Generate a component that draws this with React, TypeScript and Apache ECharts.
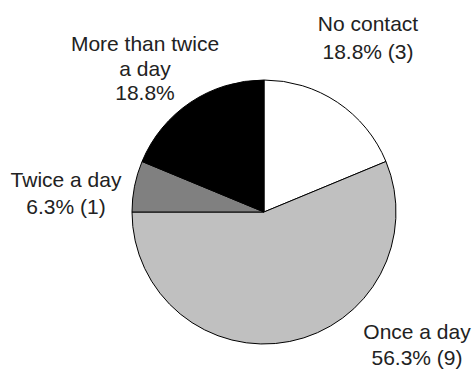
import React, { useEffect, useRef } from "react";
import * as echarts from "echarts";

// Data
const categories = ["No contact", "Once a day", "Twice a day", "More than twice a day"];
const labelTitles = ["No contact", "Once a day", "Twice a day", "More than twice\na day"];
const counts = [3, 9, 1, 3];
const showCount = [true, true, true, false];

// Styling / layout (not data)
const sliceColors = ["#ffffff", "#c0c0c0", "#808080", "#000000"];
const labelCenters: [number, number][] = [
  [368, 37],
  [417, 344],
  [66, 193],
  [145, 68],
];
const labelLineHeights = [28, 26, 26.5, 24.6];

export default function App() {
  const ref = useRef<HTMLDivElement>(null);
  useEffect(() => {
    if (!ref.current) return;
    const chart = echarts.init(ref.current, undefined, { renderer: "svg" });
    const total = counts.reduce((a, b) => a + b, 0);
    const data = categories.map((name, i) => ({
      name,
      value: counts[i],
      itemStyle: { color: sliceColors[i] },
      label: { lineHeight: labelLineHeights[i] },
    }));
    chart.setOption({
      animation: false,
      series: [
        {
          type: "pie",
          center: [264, 212],
          radius: 132,
          startAngle: 90,
          clockwise: true,
          silent: true,
          itemStyle: { borderColor: "#000000", borderWidth: 1 },
          label: {
            show: true,
            position: "outside",
            alignTo: "none",
            overflow: "none",
            fontFamily: "Liberation Sans, Arial, sans-serif",
            fontSize: 21,
            color: "#222222",
            align: "center",
            formatter: (p: any) => {
              const i = p.dataIndex;
              const pct = ((counts[i] / total) * 100).toFixed(1) + "%";
              return labelTitles[i] + "\n" + pct + (showCount[i] ? " (" + counts[i] + ")" : "");
            },
          },
          labelLine: { show: false },
          labelLayout: (params: any) => {
            const c = labelCenters[params.dataIndex];
            return { x: c[0], y: c[1], align: "center", verticalAlign: "middle" };
          },
          emphasis: { disabled: true },
          data,
        },
      ],
    });
    return () => chart.dispose();
  }, []);
  return (
    <div
      ref={ref}
      style={{ position: "fixed", left: 0, top: 0, width: 475, height: 369, background: "#ffffff" }}
    />
  );
}
